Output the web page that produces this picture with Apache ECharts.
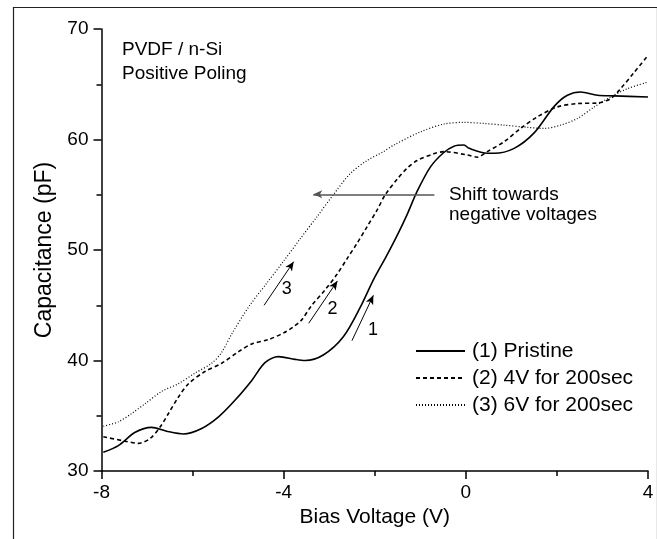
<!DOCTYPE html>
<html>
<head>
<meta charset="utf-8">
<script src="https://cdn.jsdelivr.net/npm/echarts@6/dist/echarts.min.js"></script>
<style>html,body{margin:0;padding:0;background:#fff}#c{width:657px;height:539px}</style>
</head>
<body>
<div id="c"></div>
<script>
// Series 1: Pristine
var v1 = [-7.96, -7.63, -7.26, -6.9, -6.57, -6.2, -5.8, -5.43, -5.07, -4.7, -4.41, -4.11, -3.75, -3.53, -3.13, -2.69, -2.32, -2.03, -1.75, -1.51, -1.29, -1.07, -0.78, -0.49, -0.26, -0.04, 0.07, 0.47, 0.62, 1.06, 1.5, 1.94, 2.23, 2.52, 2.89, 3.26, 4.0];
var c1 = [31.7, 32.3, 33.5, 33.95, 33.6, 33.35, 33.85, 34.9, 36.4, 38.2, 39.8, 40.35, 40.1, 40.0, 40.5, 42.15, 44.8, 47.3, 49.4, 51.3, 53.2, 55.3, 57.5, 58.8, 59.4, 59.5, 59.2, 58.75, 58.75, 59.2, 60.6, 63.0, 64.0, 64.3, 64.0, 63.95, 63.85];
// Series 2: 4V for 200sec
var v2 = [-7.96, -7.48, -7.19, -6.93, -6.71, -6.53, -6.31, -6.09, -5.73, -5.36, -4.99, -4.7, -4.33, -4.0, -3.8, -3.6, -3.4, -3.09, -2.83, -2.61, -2.39, -2.17, -1.95, -1.77, -1.51, -1.29, -1.07, -0.71, -0.48, 0.03, 0.25, 0.47, 0.84, 1.2, 1.57, 2.01, 2.45, 2.89, 3.18, 3.4, 3.7, 4.0];
var c2 = [33.1, 32.7, 32.5, 32.95, 34.0, 35.2, 36.7, 37.9, 39.0, 39.75, 40.8, 41.5, 41.9, 42.5, 43.0, 43.7, 44.9, 46.4, 47.8, 49.2, 50.6, 52.1, 53.6, 55.0, 56.4, 57.4, 58.1, 58.7, 58.9, 58.6, 58.4, 58.9, 59.8, 61.0, 62.05, 62.95, 63.25, 63.3, 63.7, 64.6, 66.1, 67.6];
// Series 3: 6V for 200sec
var v3 = [-7.96, -7.63, -7.34, -7.04, -6.68, -6.31, -5.95, -5.58, -5.36, -5.14, -4.76, -4.37, -4.0, -3.64, -3.27, -2.91, -2.54, -2.17, -1.81, -1.58, -0.99, -0.48, -0.04, 0.4, 0.84, 1.35, 1.72, 2.08, 2.45, 2.82, 3.18, 3.55, 4.0];
var c3 = [34.05, 34.45, 35.2, 36.1, 37.2, 37.9, 38.85, 39.75, 40.75, 42.4, 44.9, 47.0, 49.0, 51.0, 53.0, 55.0, 56.9, 58.1, 58.9, 59.5, 60.7, 61.4, 61.55, 61.45, 61.3, 61.1, 61.0, 61.3, 61.9, 62.95, 63.85, 64.6, 65.2];

var seriesNames = ['(1) Pristine', '(2) 4V for 200sec', '(3) 6V for 200sec'];
var xTicks = [-8, -4, 0, 4];
var yTicks = [30, 40, 50, 60, 70];

// annotation arrows in data units: [x0, y0, x1, y1]
var shiftArrow = [-0.69, 55.04, -3.35, 55.04];
var arrow1 = [-2.5, 41.8, -2.03, 45.9];
var arrow2 = [-3.45, 43.37, -2.82, 47.2];
var arrow3 = [-4.43, 45.0, -3.78, 48.94];
var arrowLabels = ['1', '2', '3'];
var arrowLabelPos = [[-2.04, 42.8], [-2.93, 44.66], [-3.93, 46.5]];

function zip(a, b) { return a.map(function (x, i) { return [x, b[i]]; }); }

var FONT = 'Liberation Sans, Arial, sans-serif';
var chart = echarts.init(document.getElementById('c'), null, {renderer: 'canvas'});

function arrowLine(a, color, w) {
  return [{coord: [a[0], a[1]], lineStyle: {color: color, width: w, type: 'solid'}}, {coord: [a[2], a[3]]}];
}

var option = {
  animation: false,
  backgroundColor: '#fff',
  grid: {left: 101.5, right: 9, top: 29, bottom: 68, containLabel: false},
  xAxis: {
    type: 'value', min: -8, max: 4, interval: 4,
    name: 'Bias Voltage (V)', nameLocation: 'middle', nameGap: 25,
    nameTextStyle: {fontSize: 21, color: '#000', fontFamily: FONT},
    axisLine: {show: true, onZero: false, lineStyle: {color: '#000', width: 1.5}},
    axisTick: {show: true, inside: false, length: 8, lineStyle: {color: '#000', width: 1.5}},
    minorTick: {show: true, splitNumber: 2, length: 5, lineStyle: {color: '#000', width: 1.5}},
    axisLabel: {fontSize: 19, color: '#000', fontFamily: FONT, margin: 12},
    splitLine: {show: false}
  },
  yAxis: {
    type: 'value', min: 30, max: 70, interval: 10,
    name: 'Capacitance (pF)', nameLocation: 'middle', nameGap: 45,
    nameTextStyle: {fontSize: 23, color: '#000', fontFamily: FONT},
    axisLine: {show: true, onZero: false, lineStyle: {color: '#000', width: 1.5}},
    axisTick: {show: true, inside: false, length: 8, lineStyle: {color: '#000', width: 1.5}},
    minorTick: {show: true, splitNumber: 2, length: 5, lineStyle: {color: '#000', width: 1.5}},
    axisLabel: {fontSize: 19, color: '#000', fontFamily: FONT, margin: 13},
    splitLine: {show: false}
  },
  legend: {
    orient: 'vertical', left: 415, top: 340,
    itemWidth: 49, itemHeight: 14, itemGap: 5, padding: 0,
    itemStyle: {opacity: 0},
    textStyle: {fontSize: 21, color: '#000', fontFamily: FONT, padding: [0, 0, 0, 2], lineHeight: 22},
    data: seriesNames
  },
  series: [
    {name: seriesNames[0], type: 'line', data: zip(v1, c1), smooth: 0.3, symbol: 'none',
     lineStyle: {color: '#000', width: 1.6, type: 'solid'}, itemStyle: {color: '#000'}},
    {name: seriesNames[1], type: 'line', data: zip(v2, c2), smooth: 0.3, symbol: 'none',
     lineStyle: {color: '#000', width: 1.6, type: [4, 3]}, itemStyle: {color: '#000'}},
    {name: seriesNames[2], type: 'line', data: zip(v3, c3), smooth: 0.3, symbol: 'none',
     lineStyle: {color: '#000', width: 1.2, type: [1, 2]}, itemStyle: {color: '#000'}},
    {name: 'annot', type: 'line', data: [], silent: true,
     markLine: {
       silent: true, animation: false,
       symbol: ['none', 'arrow'], symbolSize: [6, 9],
       label: {show: false},
       emphasis: {disabled: true},
       data: [
         arrowLine(shiftArrow, '#555', 1.6),
         arrowLine(arrow1, '#000', 1),
         arrowLine(arrow2, '#000', 1),
         arrowLine(arrow3, '#000', 1)
       ]
     },
     markPoint: {
       silent: true, symbol: 'circle', symbolSize: 0,
       label: {show: true, color: '#000', fontSize: 18, fontFamily: FONT, position: 'inside'},
       data: arrowLabels.map(function (t, i) {
         return {coord: arrowLabelPos[i], value: t, label: {formatter: t}};
       })
     }
    }
  ],
  graphic: [
    {type: 'rect', left: 11, top: 5, shape: {width: 644, height: 532}, style: {fill: 'none', stroke: '#222', lineWidth: 1.2}, silent: true, z: -1},
    {type: 'text', left: 122, top: 40, style: {text: 'PVDF / n-Si', fontSize: 19, fill: '#000', fontFamily: FONT}},
    {type: 'text', left: 122, top: 64, style: {text: 'Positive Poling', fontSize: 19, fill: '#000', fontFamily: FONT}},
    {type: 'text', left: 449, top: 185, style: {text: 'Shift towards', fontSize: 19, fill: '#000', fontFamily: FONT}},
    {type: 'text', left: 449, top: 205, style: {text: 'negative voltages', fontSize: 19, fill: '#000', fontFamily: FONT}}
  ]
};
chart.setOption(option);
</script>
</body>
</html>
